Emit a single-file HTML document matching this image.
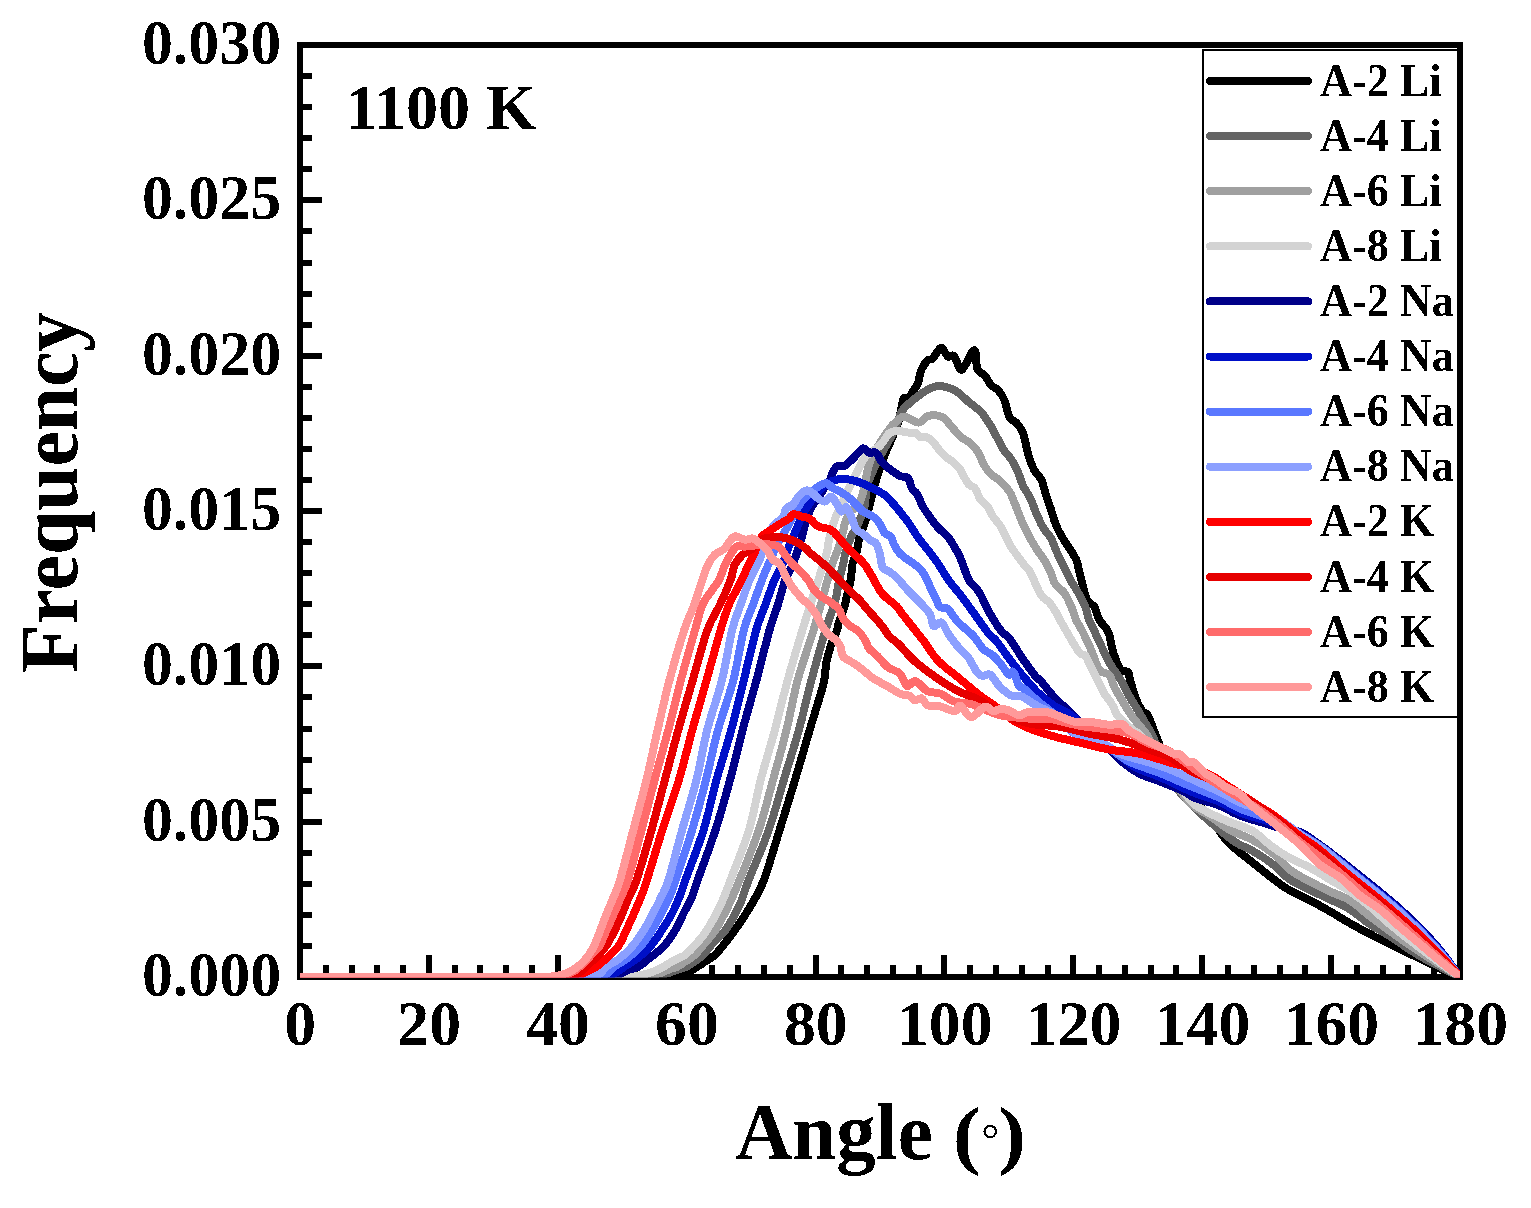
<!DOCTYPE html><html><head><meta charset="utf-8"><title>Angle distribution 1100 K</title><style>html,body{margin:0;padding:0;background:#fff;}svg{display:block;}text{font-family:"Liberation Serif", "Times New Roman", serif;font-weight:bold;fill:#000;}</style></head><body>
<svg width="1531" height="1208" viewBox="0 0 1531 1208">
<rect x="0" y="0" width="1531" height="1208" fill="#fff"/>
<defs><filter id="crisp" x="-5%" y="-5%" width="110%" height="110%"><feComponentTransfer><feFuncA type="discrete" tableValues="0 1"/></feComponentTransfer></filter><clipPath id="pa"><rect x="300" y="45" width="1160" height="932.5"/></clipPath></defs>
<rect x="300" y="45" width="1160" height="932" fill="none" stroke="#000" stroke-width="6"/>
<path d="M325.8,977 V965 M351.6,977 V965 M377.3,977 V965 M403.1,977 V965 M428.9,977 V955 M454.7,977 V965 M480.4,977 V965 M506.2,977 V965 M532.0,977 V965 M557.8,977 V955 M583.6,977 V965 M609.3,977 V965 M635.1,977 V965 M660.9,977 V965 M686.7,977 V955 M712.4,977 V965 M738.2,977 V965 M764.0,977 V965 M789.8,977 V965 M815.6,977 V955 M841.3,977 V965 M867.1,977 V965 M892.9,977 V965 M918.7,977 V965 M944.4,977 V955 M970.2,977 V965 M996.0,977 V965 M1021.8,977 V965 M1047.6,977 V965 M1073.3,977 V955 M1099.1,977 V965 M1124.9,977 V965 M1150.7,977 V965 M1176.4,977 V965 M1202.2,977 V955 M1228.0,977 V965 M1253.8,977 V965 M1279.6,977 V965 M1305.3,977 V965 M1331.1,977 V955 M1356.9,977 V965 M1382.7,977 V965 M1408.4,977 V965 M1434.2,977 V965 M300,945.9 H312 M300,914.9 H312 M300,883.8 H312 M300,852.7 H312 M300,821.7 H322 M300,790.6 H312 M300,759.5 H312 M300,728.5 H312 M300,697.4 H312 M300,666.3 H322 M300,635.3 H312 M300,604.2 H312 M300,573.1 H312 M300,542.1 H312 M300,511.0 H322 M300,479.9 H312 M300,448.9 H312 M300,417.8 H312 M300,386.7 H312 M300,355.7 H322 M300,324.6 H312 M300,293.5 H312 M300,262.5 H312 M300,231.4 H312 M300,200.3 H322 M300,169.3 H312 M300,138.2 H312 M300,107.1 H312 M300,76.1 H312" stroke="#000" stroke-width="6" fill="none" shape-rendering="crispEdges"/>
<g clip-path="url(#pa)" fill="none" stroke-width="8.0" stroke-linejoin="round" stroke-linecap="round" shape-rendering="crispEdges">
<path stroke="#000000" d="M300.0,977.0 C358.3,977.0 589.7,977.1 650.0,977.0 C662.0,976.9 658.3,976.8 662.0,976.5 C665.7,976.2 669.0,975.5 672.0,975.0 C675.0,974.5 677.7,973.8 680.0,973.5 C682.3,973.2 683.2,974.1 686.0,973.0 C688.8,971.9 693.7,969.0 697.0,967.0 C700.3,965.0 703.0,963.0 706.0,961.0 C709.0,959.0 711.8,958.0 715.0,955.0 C718.2,952.0 721.7,947.2 725.0,943.0 C728.3,938.8 730.6,936.3 735.0,930.0 C739.4,923.7 746.4,913.3 751.2,905.0 C756.0,896.7 759.2,892.5 763.9,880.0 C768.6,867.5 774.4,846.7 779.6,830.0 C784.8,813.3 790.0,796.7 795.0,780.0 C800.0,763.3 804.9,746.3 809.7,730.0 C814.5,713.7 821.3,693.0 824.0,682.0 C826.0,671.0 825.2,669.0 826.0,664.0 C826.8,659.0 828.0,655.7 829.0,652.0 C830.0,648.3 830.8,645.3 832.0,642.0 C833.2,638.7 835.3,635.3 836.5,632.0 C837.7,628.7 837.9,625.7 839.0,622.0 C840.1,618.3 842.2,613.7 843.4,610.0 C844.6,606.3 844.8,605.0 846.0,600.0 C847.2,595.0 849.6,586.0 850.7,580.0 C851.8,574.0 851.6,568.4 852.6,563.7 C853.6,559.0 855.5,556.3 856.6,552.0 C857.8,547.7 858.1,542.5 859.5,537.7 C860.9,532.9 863.1,528.5 864.7,523.2 C866.4,517.9 867.7,512.2 869.4,505.8 C871.1,499.4 872.5,492.6 874.7,485.0 C876.9,477.4 879.2,469.2 882.7,460.0 C886.2,450.8 892.7,436.7 895.4,430.0 C898.1,423.3 897.6,425.2 899.0,420.0 C900.4,414.8 902.0,402.6 903.5,399.0 C905.0,395.4 906.4,400.3 908.3,398.5 C910.2,396.7 913.4,390.6 915.0,388.0 C916.6,385.4 916.9,386.1 918.0,383.0 C919.1,379.9 919.9,373.2 921.5,369.5 C923.1,365.8 925.7,362.3 927.5,360.5 C929.3,358.7 930.5,360.5 932.5,358.6 C934.5,356.7 937.9,350.7 939.5,349.0 C941.1,347.3 940.9,347.1 942.3,348.4 C943.7,349.6 946.0,355.2 948.0,356.5 C950.0,357.8 952.0,353.9 954.2,356.1 C956.4,358.3 958.6,369.2 961.0,369.7 C963.4,370.2 966.5,362.1 968.5,359.0 C970.5,355.9 971.7,352.1 972.9,351.0 C974.1,349.9 974.7,349.5 975.5,352.5 C976.3,355.5 975.9,365.1 977.5,369.0 C979.1,372.9 982.7,373.2 985.0,376.0 C987.3,378.8 989.2,383.1 991.5,385.5 C993.8,387.9 996.3,388.0 998.5,390.5 C1000.7,393.0 1002.6,396.0 1004.5,400.5 C1006.4,405.0 1007.6,413.8 1009.6,417.5 C1011.6,421.2 1014.2,420.3 1016.5,423.0 C1018.8,425.7 1021.2,428.2 1023.2,433.5 C1025.2,438.8 1026.5,449.0 1028.3,455.0 C1030.1,461.0 1031.7,465.3 1033.9,469.5 C1036.1,473.7 1039.7,476.3 1041.5,480.0 C1043.3,483.7 1043.5,486.8 1045.0,491.6 C1046.5,496.4 1048.9,503.2 1050.8,509.0 C1052.7,514.8 1054.2,520.9 1056.5,526.3 C1058.8,531.7 1062.5,537.6 1064.7,541.4 C1067.0,545.2 1068.5,546.7 1070.0,549.0 C1071.5,551.3 1072.3,552.8 1073.5,555.0 C1074.7,557.2 1075.8,558.1 1077.0,562.0 C1078.2,565.9 1079.3,572.3 1080.9,578.5 C1082.5,584.7 1085.0,595.0 1086.7,599.3 C1088.4,603.5 1089.7,602.6 1091.0,604.0 C1092.3,605.4 1093.4,604.7 1094.8,607.4 C1096.2,610.1 1097.1,615.8 1099.4,620.0 C1101.7,624.2 1106.1,627.0 1108.4,632.4 C1110.7,637.8 1111.3,646.3 1113.1,652.1 C1114.9,657.9 1117.5,663.9 1119.0,667.0 C1120.5,670.1 1120.5,670.2 1122.0,671.0 C1123.5,671.8 1126.6,670.3 1128.0,672.0 C1129.4,673.7 1129.0,676.5 1130.4,681.1 C1131.8,685.7 1134.5,695.0 1136.2,699.6 C1138.0,704.2 1139.8,706.8 1140.9,708.9 C1142.0,711.0 1142.0,711.1 1143.0,712.0 C1144.0,712.9 1145.8,712.6 1147.0,714.0 C1148.2,715.4 1148.6,716.9 1150.1,720.5 C1151.6,724.1 1151.8,725.6 1155.9,735.5 C1160.1,745.4 1168.5,769.2 1175.0,780.0 C1181.5,790.8 1188.6,793.3 1194.8,800.0 C1201.0,806.7 1207.4,813.8 1212.2,820.0 C1217.0,826.2 1219.9,832.2 1223.7,837.0 C1227.5,841.8 1230.5,844.4 1235.3,848.7 C1240.1,853.0 1247.9,858.7 1252.7,862.6 C1257.5,866.5 1260.4,868.9 1264.3,872.0 C1268.2,875.1 1271.6,877.9 1275.9,881.0 C1280.2,884.1 1284.3,887.3 1290.0,890.5 C1295.7,893.7 1303.3,896.9 1310.0,900.4 C1316.7,903.9 1323.3,907.6 1330.0,911.4 C1336.7,915.2 1343.3,919.5 1350.0,923.3 C1356.7,927.1 1361.7,929.9 1370.0,934.2 C1378.3,938.5 1391.4,944.8 1400.0,949.0 C1408.6,953.2 1414.6,956.0 1421.7,959.5 C1428.8,963.0 1436.2,967.1 1442.6,970.0 C1449.0,972.9 1457.1,975.8 1460.0,977.0"/>
<path stroke="#646464" d="M300.0,977.0 C356.3,977.0 579.7,977.1 638.0,977.0 C650.0,976.9 646.2,976.8 650.0,976.5 C653.8,976.2 657.7,975.7 661.0,975.0 C664.3,974.3 667.2,973.4 670.0,972.5 C672.8,971.6 675.3,970.4 678.0,969.5 C680.7,968.6 683.3,968.1 686.0,966.9 C688.7,965.6 691.2,964.0 694.0,962.0 C696.8,960.0 699.8,958.2 703.0,955.0 C706.2,951.8 709.2,947.2 713.0,943.0 C716.8,938.8 721.1,936.3 725.5,930.0 C729.9,923.7 735.7,913.3 739.6,905.0 C743.5,896.7 743.8,892.5 748.7,880.0 C753.6,867.5 762.9,846.7 768.8,830.0 C774.6,813.3 778.8,796.7 783.8,780.0 C788.8,763.3 794.3,746.7 798.9,730.0 C803.5,713.3 807.0,696.7 811.5,680.0 C816.0,663.3 821.6,643.2 825.6,630.0 C829.6,616.8 833.0,608.9 835.3,600.6 C837.5,592.3 837.8,586.1 839.1,580.0 C840.4,573.9 842.2,568.4 843.3,563.7 C844.4,559.0 844.4,556.3 845.6,552.0 C846.9,547.7 848.7,542.5 850.8,537.7 C852.9,532.9 856.1,528.5 858.4,523.2 C860.7,517.9 863.2,512.2 864.7,505.8 C866.2,499.4 865.0,492.7 867.3,485.0 C869.6,477.3 873.7,468.8 878.3,459.6 C882.9,450.4 890.8,438.0 894.7,430.0 C898.6,422.0 898.7,416.3 901.5,411.5 C904.3,406.7 907.7,404.7 911.7,401.3 C915.7,397.9 920.8,393.7 925.3,391.1 C929.8,388.6 933.8,386.0 938.9,386.0 C944.0,386.0 950.9,388.4 955.9,391.1 C960.9,393.8 964.9,398.9 969.0,402.3 C973.1,405.7 977.1,407.9 980.6,411.6 C984.1,415.3 987.1,420.1 989.8,424.3 C992.5,428.6 994.5,432.9 996.8,437.1 C999.1,441.4 1001.2,445.9 1003.7,449.8 C1006.2,453.7 1009.4,456.2 1011.9,460.3 C1014.4,464.4 1016.9,469.9 1018.8,474.2 C1020.6,478.4 1021.1,481.9 1023.0,485.8 C1024.8,489.7 1027.6,492.6 1029.9,497.4 C1032.2,502.2 1034.6,509.6 1036.9,514.8 C1039.2,520.0 1041.5,524.9 1043.8,528.7 C1046.1,532.6 1048.5,533.7 1050.8,537.9 C1053.1,542.1 1055.4,549.1 1057.7,554.1 C1060.0,559.1 1062.4,563.4 1064.7,568.0 C1067.0,572.6 1069.3,577.6 1071.6,581.9 C1073.9,586.1 1076.3,589.2 1078.6,593.5 C1080.9,597.8 1083.8,603.0 1085.5,607.4 C1087.2,611.8 1087.7,616.4 1089.0,620.0 C1090.3,623.6 1091.1,624.2 1093.4,629.0 C1095.7,633.8 1099.7,642.7 1102.6,648.7 C1105.5,654.7 1107.8,659.9 1110.7,664.9 C1113.6,669.9 1116.9,673.6 1120.0,678.8 C1123.1,684.0 1126.2,690.7 1129.3,696.1 C1132.4,701.5 1135.4,706.0 1138.5,711.2 C1141.6,716.4 1145.5,723.3 1147.8,727.4 C1150.1,731.5 1148.0,726.4 1152.5,736.0 C1157.0,745.6 1167.9,773.0 1175.0,785.0 C1182.1,797.0 1188.3,801.2 1195.0,808.0 C1201.7,814.8 1208.3,820.3 1215.0,826.0 C1221.7,831.7 1228.7,837.8 1235.0,842.0 C1241.3,846.2 1246.5,847.3 1252.7,851.0 C1259.0,854.7 1266.3,859.2 1272.5,864.0 C1278.7,868.8 1283.8,875.3 1290.0,879.6 C1296.2,883.9 1303.3,886.7 1310.0,890.0 C1316.7,893.3 1323.3,896.2 1330.0,899.4 C1336.7,902.6 1343.3,905.2 1350.0,909.4 C1356.7,913.5 1363.3,919.8 1370.0,924.3 C1376.7,928.8 1381.7,930.9 1390.0,936.2 C1398.3,941.5 1408.3,949.2 1420.0,956.0 C1431.7,962.8 1453.3,973.5 1460.0,977.0"/>
<path stroke="#a0a0a0" d="M300.0,977.0 C355.0,977.0 573.0,977.1 630.0,977.0 C642.0,976.9 638.3,976.8 642.0,976.5 C645.7,976.2 648.7,975.7 652.0,975.0 C655.3,974.3 659.0,973.5 662.0,972.5 C665.0,971.5 667.5,969.9 670.0,969.0 C672.5,968.1 674.3,968.2 677.0,966.9 C679.7,965.6 683.0,963.0 686.0,961.0 C689.0,959.0 691.5,958.0 694.7,955.0 C697.9,952.0 701.5,947.2 705.0,943.0 C708.5,938.8 711.5,936.3 715.5,930.0 C719.5,923.7 724.8,913.3 728.8,905.0 C732.8,896.7 734.6,892.5 739.6,880.0 C744.6,867.5 753.3,846.7 758.9,830.0 C764.5,813.3 768.4,796.7 773.0,780.0 C777.6,763.3 782.4,746.7 786.5,730.0 C790.6,713.3 793.2,696.7 797.7,680.0 C802.2,663.3 808.6,646.7 813.6,630.0 C818.6,613.3 824.5,591.0 827.6,580.0 C830.7,569.0 830.8,568.4 832.3,563.7 C833.8,559.0 835.3,556.3 836.9,552.0 C838.5,547.7 840.2,542.5 841.6,537.7 C843.0,532.9 843.6,527.5 845.0,523.2 C846.4,518.9 847.9,514.9 850.0,512.0 C852.1,509.1 855.6,509.0 857.8,505.8 C860.0,502.6 860.8,500.7 863.0,493.0 C865.2,485.3 866.5,470.1 870.8,459.6 C875.1,449.1 884.2,436.6 888.7,430.0 C893.2,423.4 895.4,422.2 898.1,420.0 C900.8,417.8 901.5,416.2 904.9,416.6 C908.3,417.0 914.5,422.7 918.5,422.6 C922.5,422.5 924.7,416.7 928.7,415.8 C932.7,414.9 938.5,415.2 942.3,417.0 C946.1,418.8 948.5,423.3 951.6,426.7 C954.7,430.1 957.8,434.4 960.9,437.1 C964.0,439.8 967.2,440.4 970.1,442.9 C973.0,445.4 975.9,448.5 978.2,452.2 C980.5,455.9 981.9,461.2 984.0,464.9 C986.1,468.6 988.3,471.5 991.0,474.2 C993.7,476.9 997.2,478.2 1000.3,481.1 C1003.4,484.0 1007.2,488.1 1009.5,491.6 C1011.8,495.1 1012.0,496.6 1014.2,502.0 C1016.5,507.4 1020.4,518.0 1023.0,524.0 C1025.6,530.0 1027.6,533.6 1029.9,537.9 C1032.2,542.1 1034.4,545.6 1036.9,549.5 C1039.4,553.4 1042.7,557.2 1045.0,561.1 C1047.3,565.0 1049.1,568.8 1050.8,572.7 C1052.5,576.6 1053.1,580.8 1055.4,584.3 C1057.7,587.8 1062.0,589.6 1064.7,593.5 C1067.4,597.4 1069.7,603.0 1071.6,607.4 C1073.5,611.8 1074.3,615.8 1076.2,620.0 C1078.1,624.2 1080.5,627.4 1083.0,632.4 C1085.5,637.4 1088.4,643.6 1091.1,649.8 C1093.8,656.0 1096.1,665.2 1099.2,669.5 C1102.3,673.8 1107.1,672.4 1109.6,675.3 C1112.1,678.2 1112.1,682.6 1114.2,686.9 C1116.3,691.1 1119.4,696.0 1122.3,700.8 C1125.2,705.6 1128.5,711.4 1131.6,715.8 C1134.7,720.2 1138.2,723.9 1140.9,727.4 C1143.6,730.9 1143.0,728.8 1147.8,736.7 C1152.6,744.6 1163.0,764.0 1170.0,775.0 C1177.0,786.0 1183.3,796.2 1190.0,803.0 C1196.7,809.8 1203.3,811.5 1210.0,816.0 C1216.7,820.5 1222.9,826.0 1230.0,830.0 C1237.1,834.0 1245.6,836.2 1252.7,840.0 C1259.8,843.8 1266.3,848.0 1272.5,853.0 C1278.7,858.0 1283.8,864.9 1290.0,869.7 C1296.2,874.5 1303.3,878.0 1310.0,881.6 C1316.7,885.2 1323.3,888.4 1330.0,891.5 C1336.7,894.6 1343.3,896.3 1350.0,900.4 C1356.7,904.5 1363.3,911.2 1370.0,916.3 C1376.7,921.4 1381.7,925.2 1390.0,931.2 C1398.3,937.2 1408.3,944.4 1420.0,952.0 C1431.7,959.6 1453.3,972.8 1460.0,977.0"/>
<path stroke="#d3d3d3" d="M300.0,977.0 C353.7,977.0 566.3,977.1 622.0,977.0 C634.0,976.9 630.3,976.7 634.0,976.3 C637.7,975.9 641.0,975.2 644.0,974.5 C647.0,973.8 649.7,972.8 652.0,972.0 C654.3,971.2 656.0,970.4 658.0,969.5 C660.0,968.6 661.7,967.8 664.0,966.5 C666.3,965.2 669.5,962.9 672.0,961.5 C674.5,960.1 676.8,959.1 679.0,958.0 C681.2,956.9 682.2,957.3 685.0,955.0 C687.8,952.7 692.3,948.2 696.0,944.0 C699.7,939.8 702.9,936.5 707.0,930.0 C711.1,923.5 716.7,913.3 720.6,905.0 C724.5,896.7 725.8,892.5 730.5,880.0 C735.2,867.5 744.0,846.7 749.0,830.0 C754.0,813.3 756.4,796.7 760.7,780.0 C765.0,763.3 770.4,746.7 774.9,730.0 C779.4,713.3 783.1,696.7 787.7,680.0 C792.3,663.3 797.3,646.7 802.4,630.0 C807.5,613.3 814.8,591.0 818.3,580.0 C821.8,569.0 822.1,568.4 823.6,563.7 C825.1,559.0 826.0,556.3 827.0,552.0 C828.0,547.7 828.3,542.5 829.4,537.7 C830.5,532.9 831.6,528.3 833.4,523.2 C835.2,518.1 837.1,513.4 840.0,507.0 C842.9,500.6 846.8,492.9 850.7,485.0 C854.6,477.1 860.2,464.9 863.4,459.6 C866.6,454.3 867.5,455.1 870.0,453.0 C872.5,450.9 876.3,448.8 878.5,447.0 C880.7,445.2 881.3,444.2 883.0,442.0 C884.7,439.8 887.0,435.7 888.5,434.0 C890.0,432.3 890.1,432.3 892.0,431.8 C893.9,431.3 897.1,431.1 899.7,431.2 C902.3,431.3 905.0,432.2 907.7,432.5 C910.4,432.8 914.0,432.3 916.0,433.0 C918.0,433.7 917.9,436.1 919.6,436.8 C921.3,437.5 924.0,436.3 926.2,437.1 C928.4,437.9 930.6,439.5 932.8,441.7 C935.0,443.9 937.3,447.8 939.5,450.3 C941.7,452.9 943.8,455.1 946.0,457.0 C948.2,458.9 950.5,460.0 952.7,461.9 C954.9,463.8 957.5,466.0 959.3,468.2 C961.0,470.4 961.6,472.6 963.2,475.3 C964.8,478.0 967.1,482.5 969.0,484.6 C970.9,486.7 972.9,485.6 974.8,488.1 C976.7,490.6 978.5,496.6 980.6,499.7 C982.7,502.8 985.4,503.7 987.5,506.6 C989.6,509.5 991.0,513.5 993.3,517.0 C995.6,520.5 998.7,523.0 1001.4,527.5 C1004.1,532.0 1005.9,538.2 1009.5,544.2 C1013.1,550.2 1019.6,558.9 1023.0,563.4 C1026.4,567.9 1027.8,568.0 1029.9,571.5 C1032.0,575.0 1033.8,580.2 1035.7,584.3 C1037.6,588.3 1039.2,592.7 1041.5,595.8 C1043.8,598.9 1047.1,599.9 1049.6,602.8 C1052.1,605.7 1054.8,610.3 1056.5,613.2 C1058.2,616.1 1056.5,613.7 1060.0,620.0 C1063.6,626.3 1074.1,645.1 1078.3,651.0 C1082.5,656.9 1083.4,653.3 1085.3,655.6 C1087.2,657.9 1088.0,661.0 1089.9,664.9 C1091.8,668.8 1094.6,674.2 1096.9,678.8 C1099.2,683.4 1101.3,688.5 1103.8,692.7 C1106.3,697.0 1109.6,700.4 1111.9,704.3 C1114.2,708.1 1115.6,712.7 1117.7,715.8 C1119.8,718.9 1122.0,720.3 1124.7,722.8 C1127.4,725.3 1131.2,728.7 1133.9,730.9 C1136.6,733.1 1134.9,729.5 1140.9,736.0 C1146.9,742.5 1161.8,759.3 1170.0,770.0 C1178.2,780.7 1183.9,793.1 1190.0,800.0 C1196.1,806.9 1199.8,807.8 1206.4,811.5 C1213.0,815.2 1221.8,818.8 1229.5,822.0 C1237.2,825.2 1246.0,827.2 1252.7,831.0 C1259.5,834.8 1264.2,840.7 1270.0,845.0 C1275.8,849.3 1280.8,852.9 1287.5,856.7 C1294.2,860.5 1302.9,863.9 1310.0,867.7 C1317.1,871.5 1323.3,875.6 1330.0,879.6 C1336.7,883.6 1343.3,887.0 1350.0,891.5 C1356.7,896.0 1363.3,900.9 1370.0,906.4 C1376.7,911.9 1381.7,917.4 1390.0,924.3 C1398.3,931.2 1408.3,939.2 1420.0,948.0 C1431.7,956.8 1453.3,972.2 1460.0,977.0"/>
<path stroke="#000088" d="M300.0,977.0 C350.7,977.0 551.7,977.2 604.0,977.0 C614.0,976.8 611.2,976.6 614.0,976.0 C616.8,975.4 618.7,974.5 621.0,973.5 C623.3,972.5 625.2,971.1 628.0,970.0 C630.8,968.9 634.5,968.8 638.0,966.9 C641.5,965.0 644.7,962.0 649.0,958.6 C653.3,955.2 659.5,951.0 663.9,946.2 C668.3,941.4 672.2,935.2 675.5,929.7 C678.8,924.2 681.0,918.6 683.7,913.1 C686.5,907.6 689.7,902.1 692.0,896.6 C694.3,891.1 693.8,891.1 697.7,880.0 C701.6,868.9 710.1,846.7 715.5,830.0 C720.9,813.3 725.5,796.7 730.0,780.0 C734.5,763.3 738.2,746.7 742.6,730.0 C747.0,713.3 752.0,696.7 756.5,680.0 C761.0,663.3 766.0,642.5 769.5,630.0 C773.0,617.5 775.2,613.3 777.8,605.0 C780.4,596.7 783.2,585.8 785.2,580.0 C787.2,574.2 788.2,574.0 790.0,570.0 C791.8,566.0 794.1,560.9 795.9,555.9 C797.7,550.9 799.5,545.1 801.0,540.0 C802.5,534.9 803.5,530.0 805.0,525.0 C806.5,520.0 808.3,513.8 810.0,510.0 C811.7,506.2 813.3,504.5 815.0,502.0 C816.7,499.5 818.3,497.5 820.0,495.0 C821.7,492.5 823.4,489.3 825.0,487.0 C826.6,484.7 828.2,483.3 829.5,481.0 C830.8,478.7 831.2,475.4 832.5,473.0 C833.8,470.6 835.0,467.5 837.0,466.3 C839.0,465.1 841.6,467.4 844.4,466.0 C847.1,464.6 850.4,460.9 853.5,458.0 C856.6,455.1 860.3,449.3 863.0,448.4 C865.7,447.5 867.3,452.0 869.5,452.7 C871.7,453.4 873.9,451.1 876.0,452.7 C878.1,454.2 879.8,459.3 882.0,462.0 C884.2,464.7 886.5,466.7 889.5,469.0 C892.5,471.3 896.9,474.5 900.0,476.0 C903.1,477.5 906.0,475.9 908.0,478.0 C910.0,480.1 910.5,485.8 912.0,488.5 C913.5,491.2 915.0,490.7 917.0,494.0 C919.0,497.3 920.6,503.0 924.0,508.5 C927.4,514.0 933.5,522.2 937.5,527.0 C941.5,531.8 944.5,532.3 948.3,537.4 C952.1,542.5 956.8,550.6 960.2,557.7 C963.6,564.8 965.6,574.1 968.7,579.8 C971.8,585.5 975.5,586.3 978.9,591.7 C982.3,597.1 985.4,605.5 989.1,612.0 C992.8,618.5 997.6,626.3 1001.0,630.8 C1004.4,635.2 1005.8,634.0 1009.5,638.7 C1013.2,643.4 1018.5,652.6 1023.0,659.1 C1027.5,665.6 1033.8,674.2 1036.6,677.7 C1039.4,681.2 1037.0,676.6 1040.0,680.0 C1043.0,683.4 1049.9,692.6 1054.9,697.9 C1059.9,703.2 1064.8,706.8 1069.8,711.8 C1074.8,716.8 1080.0,722.8 1085.0,728.0 C1090.0,733.2 1095.8,739.3 1100.0,743.0 C1104.2,746.7 1105.9,746.5 1110.0,750.0 C1114.1,753.5 1119.5,759.8 1124.4,763.7 C1129.3,767.6 1133.4,770.6 1139.3,773.6 C1145.2,776.6 1152.7,778.6 1160.0,781.5 C1167.3,784.4 1177.2,788.2 1183.0,791.0 C1188.8,793.8 1189.2,795.7 1195.0,798.0 C1200.8,800.3 1210.3,802.0 1218.0,805.0 C1225.7,808.0 1233.3,813.0 1241.0,816.0 C1248.7,819.0 1257.5,821.0 1264.0,823.0 C1270.5,825.0 1274.0,826.5 1280.0,828.0 C1286.0,829.5 1293.3,829.2 1300.0,832.0 C1306.7,834.8 1313.3,840.3 1320.0,845.0 C1326.7,849.7 1333.3,854.8 1340.0,860.0 C1346.7,865.2 1353.3,870.7 1360.0,876.0 C1366.7,881.3 1373.3,886.5 1380.0,892.0 C1386.7,897.5 1393.3,903.0 1400.0,909.0 C1406.7,915.0 1413.3,921.2 1420.0,928.0 C1426.7,934.8 1433.3,941.8 1440.0,950.0 C1446.7,958.2 1456.7,972.5 1460.0,977.0"/>
<path stroke="#0010c8" d="M300.0,977.0 C349.3,977.0 545.0,977.2 596.0,977.0 C606.0,976.8 603.2,976.5 606.0,976.0 C608.8,975.5 610.7,975.0 613.0,974.0 C615.3,973.0 618.2,971.2 620.0,970.0 C621.8,968.8 621.2,968.8 624.0,966.9 C626.8,965.0 632.6,962.0 637.0,958.6 C641.4,955.2 646.4,951.0 650.6,946.2 C654.8,941.4 658.6,935.2 662.2,929.7 C665.8,924.2 669.3,918.6 672.2,913.1 C675.1,907.6 677.4,902.1 679.6,896.6 C681.8,891.1 681.4,891.1 685.4,880.0 C689.4,868.9 698.4,846.7 703.6,830.0 C708.8,813.3 711.9,796.7 716.5,780.0 C721.1,763.3 726.7,746.7 731.2,730.0 C735.8,713.3 739.6,696.7 743.8,680.0 C748.0,663.3 752.6,642.5 756.2,630.0 C759.8,617.5 762.3,613.3 765.3,605.0 C768.3,596.7 771.6,586.6 774.4,580.0 C777.2,573.4 779.6,570.8 782.0,565.2 C784.4,559.6 786.6,552.4 788.9,546.6 C791.2,540.8 793.6,535.8 795.9,530.4 C798.2,525.0 800.7,518.5 802.8,514.2 C804.9,510.0 806.2,508.4 808.6,504.9 C811.0,501.4 814.0,496.5 817.0,493.0 C820.0,489.5 823.4,486.2 826.8,484.0 C830.2,481.8 833.6,480.2 837.3,479.5 C841.0,478.8 845.0,478.8 849.2,479.5 C853.4,480.2 858.4,481.9 862.6,483.5 C866.8,485.1 870.9,487.5 874.5,489.4 C878.1,491.3 881.5,492.6 884.5,494.9 C887.5,497.2 890.0,500.2 892.8,503.2 C895.6,506.2 898.4,509.7 901.1,513.1 C903.9,516.6 906.5,519.9 909.3,523.9 C912.1,527.9 913.3,530.9 917.8,537.1 C922.3,543.3 931.3,554.0 936.4,561.1 C941.5,568.2 944.0,573.8 948.3,579.8 C952.5,585.8 957.4,590.8 961.9,596.8 C966.4,602.8 971.0,609.3 975.5,615.5 C980.0,621.7 985.7,630.1 989.1,634.2 C992.5,638.4 992.5,636.2 995.9,640.4 C999.3,644.5 1005.0,653.2 1009.5,659.1 C1014.0,665.0 1018.2,670.4 1023.0,676.0 C1027.8,681.6 1032.9,687.9 1038.3,693.0 C1043.7,698.1 1049.6,702.8 1055.3,706.6 C1061.0,710.4 1066.5,711.3 1072.3,716.0 C1078.1,720.7 1083.7,729.7 1090.0,735.0 C1096.3,740.3 1102.5,742.7 1110.0,748.0 C1117.5,753.3 1126.7,762.2 1135.0,767.0 C1143.3,771.8 1152.0,773.5 1160.0,777.0 C1168.0,780.5 1176.3,785.0 1183.0,788.0 C1189.7,791.0 1193.8,792.7 1200.0,795.0 C1206.2,797.3 1213.2,799.0 1220.0,802.0 C1226.8,805.0 1233.7,810.0 1241.0,813.0 C1248.3,816.0 1257.5,817.8 1264.0,820.0 C1270.5,822.2 1274.0,823.8 1280.0,826.0 C1286.0,828.2 1293.3,829.6 1300.0,833.0 C1306.7,836.4 1313.3,841.8 1320.0,846.5 C1326.7,851.2 1333.3,856.3 1340.0,861.5 C1346.7,866.7 1353.3,872.2 1360.0,877.5 C1366.7,882.8 1373.3,888.0 1380.0,893.5 C1386.7,899.0 1393.3,904.5 1400.0,910.5 C1406.7,916.5 1413.3,922.8 1420.0,929.5 C1426.7,936.2 1433.3,943.1 1440.0,951.0 C1446.7,958.9 1456.7,972.7 1460.0,977.0"/>
<path stroke="#5a78ff" d="M300.0,977.0 C348.3,977.0 540.0,977.2 590.0,977.0 C600.0,976.8 597.2,976.6 600.0,976.0 C602.8,975.4 604.7,975.0 607.0,973.5 C609.3,972.0 611.8,968.8 614.0,967.0 C616.2,965.2 617.8,964.4 620.0,963.0 C622.2,961.6 623.5,961.4 627.0,958.6 C630.5,955.8 636.5,951.0 640.7,946.2 C644.9,941.4 648.8,935.2 652.3,929.7 C655.8,924.2 658.5,918.6 661.4,913.1 C664.3,907.6 667.4,902.1 669.7,896.6 C672.1,891.1 671.8,891.1 675.5,880.0 C679.2,868.9 687.0,846.7 692.1,830.0 C697.2,813.3 701.7,796.7 706.0,780.0 C710.3,763.3 713.4,746.7 718.0,730.0 C722.6,713.3 729.1,696.7 733.4,680.0 C737.7,663.3 740.5,642.5 743.8,630.0 C747.0,617.5 749.9,613.3 752.9,605.0 C755.9,596.7 759.5,586.6 762.0,580.0 C764.5,573.4 765.7,570.8 768.1,565.2 C770.5,559.6 773.5,552.0 776.2,546.6 C778.9,541.2 781.4,537.9 784.3,532.7 C787.2,527.5 790.7,520.5 793.6,515.3 C796.5,510.1 799.3,504.8 801.7,501.4 C804.1,498.0 805.2,497.5 808.0,495.0 C810.8,492.5 815.2,488.6 818.3,486.6 C821.4,484.7 824.1,483.0 826.6,483.3 C829.1,483.6 830.7,486.8 833.2,488.3 C835.7,489.8 838.8,490.8 841.5,492.4 C844.2,494.0 847.2,496.1 849.7,498.2 C852.2,500.3 854.2,502.6 856.4,504.8 C858.6,507.0 860.8,509.8 863.0,511.5 C865.2,513.2 867.4,513.6 869.6,514.8 C871.8,516.0 874.3,517.0 876.2,518.9 C878.1,520.8 879.8,524.0 881.2,526.4 C882.6,528.8 882.9,531.2 884.5,533.0 C886.1,534.8 889.5,535.0 891.1,537.1 C892.8,539.2 893.0,542.8 894.4,545.4 C895.8,548.0 897.6,550.7 899.4,552.8 C901.2,554.9 903.4,556.4 905.2,557.8 C907.0,559.2 907.9,559.6 910.0,561.1 C912.1,562.6 915.4,564.7 917.8,567.0 C920.2,569.3 922.5,571.4 924.5,574.7 C926.5,578.0 928.1,582.7 930.0,586.6 C931.9,590.5 934.2,594.8 935.8,598.2 C937.4,601.6 937.9,605.3 939.8,607.0 C941.7,608.7 944.8,606.5 947.4,608.5 C950.0,610.5 952.6,615.8 955.5,619.1 C958.4,622.4 961.7,625.4 964.8,628.3 C967.9,631.2 970.9,633.0 974.0,636.5 C977.1,640.0 980.2,646.1 983.3,649.2 C986.4,652.3 989.4,652.3 992.5,655.0 C995.6,657.7 999.1,662.1 1001.8,665.4 C1004.5,668.7 1006.9,673.6 1008.8,674.7 C1010.7,675.8 1011.7,670.1 1013.4,672.0 C1015.1,673.9 1017.6,683.6 1019.2,686.3 C1020.8,688.9 1019.8,685.4 1023.0,687.9 C1026.2,690.4 1032.9,697.0 1038.3,701.5 C1043.7,706.0 1048.3,709.0 1055.3,715.1 C1062.2,721.2 1071.7,732.9 1080.0,738.0 C1088.3,743.1 1096.7,742.0 1105.0,746.0 C1113.3,750.0 1120.8,757.5 1130.0,762.0 C1139.2,766.5 1151.2,769.5 1160.0,773.0 C1168.8,776.5 1176.3,780.2 1183.0,783.0 C1189.7,785.8 1193.8,787.5 1200.0,790.0 C1206.2,792.5 1213.2,794.8 1220.0,798.0 C1226.8,801.2 1233.7,805.8 1241.0,809.0 C1248.3,812.2 1257.5,814.7 1264.0,817.0 C1270.5,819.3 1274.0,820.2 1280.0,823.0 C1286.0,825.8 1293.3,830.2 1300.0,834.0 C1306.7,837.8 1313.3,841.3 1320.0,846.0 C1326.7,850.7 1333.3,856.6 1340.0,862.0 C1346.7,867.4 1353.3,873.1 1360.0,878.5 C1366.7,883.9 1373.3,889.0 1380.0,894.5 C1386.7,900.0 1393.3,905.5 1400.0,911.5 C1406.7,917.5 1413.3,923.8 1420.0,930.5 C1426.7,937.2 1433.3,944.2 1440.0,952.0 C1446.7,959.8 1456.7,972.8 1460.0,977.0"/>
<path stroke="#8ca0ff" d="M300.0,977.0 C347.0,977.0 533.3,977.2 582.0,977.0 C592.0,976.8 589.0,976.6 592.0,976.0 C595.0,975.4 597.7,975.0 600.0,973.5 C602.3,972.0 604.0,968.8 606.0,967.0 C608.0,965.2 609.8,964.4 612.0,963.0 C614.2,961.6 616.1,961.4 619.5,958.6 C622.9,955.8 628.3,951.0 632.4,946.2 C636.5,941.4 640.5,935.2 644.0,929.7 C647.5,924.2 650.2,918.6 653.1,913.1 C656.0,907.6 658.8,902.1 661.4,896.6 C664.0,891.1 665.0,891.1 668.5,880.0 C672.0,868.9 677.4,846.7 682.1,830.0 C686.8,813.3 692.3,796.7 696.5,780.0 C700.7,763.3 703.0,746.7 707.2,730.0 C711.5,713.3 717.8,696.7 722.0,680.0 C726.2,663.3 729.1,642.5 732.2,630.0 C735.3,617.5 737.6,613.3 740.5,605.0 C743.4,596.7 746.6,587.2 749.6,580.0 C752.6,572.8 756.1,568.0 758.8,561.7 C761.5,555.4 763.8,547.6 766.0,542.0 C768.2,536.4 770.3,531.2 772.0,528.0 C773.7,524.8 774.2,524.8 776.0,523.0 C777.8,521.2 781.4,519.7 783.0,517.5 C784.6,515.3 784.5,511.8 785.5,510.0 C786.5,508.2 787.9,507.2 789.0,506.5 C790.1,505.8 790.4,507.7 792.0,506.0 C793.6,504.3 796.5,498.9 798.5,496.5 C800.5,494.1 802.5,492.5 804.0,491.5 C805.5,490.5 806.2,490.2 807.5,490.4 C808.8,490.6 810.2,491.3 812.0,492.7 C813.8,494.1 816.1,497.0 818.3,498.5 C820.4,500.0 822.7,501.8 824.9,501.5 C827.1,501.2 829.4,496.1 831.5,496.6 C833.6,497.2 835.6,502.3 837.3,504.8 C839.0,507.3 840.0,511.1 841.5,511.5 C843.0,511.9 844.8,506.3 846.4,507.3 C848.0,508.3 849.7,513.6 851.4,517.3 C853.1,521.0 854.5,527.0 856.4,529.7 C858.3,532.5 860.8,532.1 863.0,533.8 C865.2,535.4 867.4,538.0 869.6,539.6 C871.8,541.2 874.6,541.5 876.2,543.7 C877.9,545.9 878.4,548.8 879.5,552.8 C880.6,556.8 881.3,564.7 882.8,567.7 C884.3,570.8 886.2,569.4 888.6,571.1 C891.0,572.8 893.7,574.6 896.9,577.7 C900.1,580.9 903.9,586.0 907.6,590.0 C911.4,594.0 915.7,597.9 919.4,601.9 C923.1,605.9 927.6,610.0 930.0,614.0 C932.4,618.0 931.6,624.6 933.5,626.0 C935.4,627.4 939.1,621.1 941.6,622.5 C944.1,623.9 945.6,629.9 948.5,634.1 C951.4,638.4 955.7,644.1 959.0,648.0 C962.3,651.9 965.3,653.4 968.2,657.3 C971.1,661.2 974.0,668.1 976.3,671.2 C978.6,674.3 979.8,675.2 982.1,675.8 C984.4,676.4 987.3,673.0 990.2,674.7 C993.1,676.5 996.0,682.8 999.5,686.3 C1003.0,689.8 1007.5,693.8 1011.1,695.5 C1014.7,697.2 1016.8,694.5 1021.3,696.4 C1025.8,698.2 1032.6,703.5 1038.3,706.6 C1044.0,709.7 1048.3,710.0 1055.3,715.1 C1062.2,720.2 1072.5,732.7 1080.0,737.0 C1087.5,741.3 1093.4,738.2 1100.0,741.0 C1106.6,743.8 1111.3,750.0 1119.5,753.6 C1127.7,757.2 1140.9,759.9 1149.3,762.5 C1157.7,765.1 1164.4,767.4 1170.0,769.5 C1175.6,771.6 1178.0,772.8 1183.0,775.0 C1188.0,777.2 1193.8,780.2 1200.0,783.0 C1206.2,785.8 1213.2,788.7 1220.0,792.0 C1226.8,795.3 1235.0,800.3 1241.0,803.0 C1247.0,805.7 1249.5,805.2 1256.0,808.0 C1262.5,810.8 1272.7,815.7 1280.0,820.0 C1287.3,824.3 1293.3,829.5 1300.0,834.0 C1306.7,838.5 1313.3,842.2 1320.0,847.0 C1326.7,851.8 1333.3,857.6 1340.0,863.0 C1346.7,868.4 1353.3,874.1 1360.0,879.5 C1366.7,884.9 1373.3,890.0 1380.0,895.5 C1386.7,901.0 1393.3,906.5 1400.0,912.5 C1406.7,918.5 1413.3,924.8 1420.0,931.5 C1426.7,938.2 1433.3,945.4 1440.0,953.0 C1446.7,960.6 1456.7,973.0 1460.0,977.0"/>
<path stroke="#ff0000" d="M300.0,977.0 C344.3,977.0 520.0,977.2 566.0,977.0 C576.0,976.8 573.0,976.7 576.0,976.0 C579.0,975.3 581.7,974.0 584.0,973.0 C586.3,972.0 587.8,971.2 590.0,970.0 C592.2,968.8 594.8,967.9 597.5,966.0 C600.2,964.1 602.5,961.9 606.0,958.6 C609.5,955.3 615.0,951.0 618.4,946.2 C621.8,941.4 624.0,935.2 626.6,929.7 C629.2,924.2 631.7,918.6 634.1,913.1 C636.5,907.6 639.0,902.1 641.1,896.6 C643.2,891.1 643.5,891.1 647.0,880.0 C650.5,868.9 657.0,846.7 662.3,830.0 C667.6,813.3 673.9,796.7 678.9,780.0 C683.9,763.3 687.7,746.7 692.3,730.0 C696.9,713.3 701.9,696.7 706.6,680.0 C711.3,663.3 716.9,642.5 720.6,630.0 C724.3,617.5 725.4,613.3 728.9,605.0 C732.4,596.7 738.7,586.2 741.7,580.0 C744.8,573.8 745.1,571.9 747.2,567.5 C749.3,563.1 751.9,558.6 754.2,553.6 C756.5,548.6 758.4,541.2 761.1,537.3 C763.8,533.4 767.1,532.7 770.4,530.4 C773.7,528.1 777.7,525.3 780.8,523.4 C783.9,521.5 786.8,520.3 788.9,518.8 C791.0,517.3 791.5,514.6 793.6,514.2 C795.7,513.8 799.0,515.7 801.7,516.5 C804.4,517.3 807.2,517.2 810.0,518.9 C812.8,520.5 814.8,524.6 818.3,526.4 C821.8,528.2 827.2,527.8 830.7,529.7 C834.2,531.6 836.2,534.9 839.0,537.9 C841.8,540.9 844.4,544.8 847.3,547.9 C850.2,551.0 853.5,553.5 856.4,556.2 C859.3,559.0 862.1,561.2 864.6,564.4 C867.1,567.6 868.7,570.8 871.3,575.2 C873.9,579.6 877.7,587.1 880.1,590.8 C882.5,594.5 883.1,594.8 885.9,597.4 C888.7,600.0 894.3,603.9 896.8,606.4 C899.3,608.9 897.9,608.3 900.8,612.1 C903.7,615.9 910.3,624.1 914.3,629.1 C918.2,634.1 920.5,636.8 924.5,642.1 C928.5,647.4 932.4,654.9 938.1,660.8 C943.8,666.7 951.7,672.1 958.5,677.7 C965.3,683.4 972.7,689.9 978.9,694.7 C985.1,699.5 990.2,702.4 995.9,706.6 C1001.6,710.9 1007.2,716.5 1012.9,720.2 C1018.6,723.9 1023.0,726.0 1030.0,728.7 C1037.0,731.5 1046.6,734.4 1054.9,736.7 C1063.2,739.0 1070.6,740.5 1079.7,742.6 C1088.8,744.8 1099.6,747.8 1109.5,749.6 C1119.4,751.4 1129.2,751.5 1139.3,753.6 C1149.4,755.8 1158.9,759.3 1170.0,762.5 C1181.1,765.7 1196.1,768.9 1206.0,773.0 C1215.9,777.1 1220.8,781.5 1229.5,787.0 C1238.2,792.5 1250.8,800.7 1258.5,805.7 C1266.2,810.7 1269.1,812.0 1276.0,817.0 C1282.9,822.0 1292.7,830.5 1300.0,836.0 C1307.3,841.5 1313.3,844.7 1320.0,850.0 C1326.7,855.3 1333.3,862.0 1340.0,867.7 C1346.7,873.4 1353.3,878.6 1360.0,884.0 C1366.7,889.4 1373.3,894.5 1380.0,900.0 C1386.7,905.5 1393.3,911.2 1400.0,917.0 C1406.7,922.8 1413.3,928.7 1420.0,935.0 C1426.7,941.3 1433.3,948.0 1440.0,955.0 C1446.7,962.0 1456.7,973.3 1460.0,977.0"/>
<path stroke="#e60000" d="M300.0,977.0 C343.0,977.0 513.0,977.2 558.0,977.0 C570.0,976.8 566.7,976.6 570.0,976.0 C573.3,975.4 575.5,974.8 578.0,973.5 C580.5,972.2 583.0,969.8 585.0,968.0 C587.0,966.2 588.3,964.6 590.0,963.0 C591.7,961.4 592.3,961.4 595.0,958.6 C597.7,955.8 602.7,951.0 606.0,946.2 C609.3,941.4 612.2,935.2 615.0,929.7 C617.8,924.2 620.1,918.6 622.5,913.1 C624.9,907.6 626.8,902.1 629.1,896.6 C631.5,891.1 632.9,891.1 636.6,880.0 C640.3,868.9 646.8,846.7 651.5,830.0 C656.2,813.3 660.4,796.7 664.9,780.0 C669.4,763.3 673.6,746.7 678.3,730.0 C682.9,713.3 687.9,696.7 692.8,680.0 C697.6,663.3 702.9,642.5 707.4,630.0 C711.9,617.5 715.9,613.3 719.8,605.0 C723.7,596.7 728.1,586.6 730.6,580.0 C733.1,573.4 732.5,569.4 734.5,565.2 C736.5,561.0 739.7,557.4 742.6,554.7 C745.5,552.0 748.8,551.4 751.9,548.9 C755.0,546.4 757.6,541.6 761.1,539.7 C764.6,537.8 769.2,537.7 772.7,537.3 C776.2,536.9 778.5,536.7 782.0,537.3 C785.5,537.9 789.7,539.0 793.6,540.8 C797.5,542.5 802.5,545.8 805.2,547.8 C807.9,549.8 807.8,550.8 810.0,552.8 C812.2,554.8 815.5,557.1 818.3,559.5 C821.1,561.9 823.5,563.9 826.6,566.9 C829.7,569.9 833.3,573.7 837.0,577.5 C840.7,581.3 844.9,586.2 848.6,589.9 C852.3,593.6 856.2,596.6 859.4,599.9 C862.6,603.2 864.9,606.6 867.7,609.8 C870.5,613.0 873.2,615.7 876.0,618.9 C878.8,622.1 882.0,625.9 884.2,628.8 C886.4,631.7 886.7,633.7 889.2,636.3 C891.7,638.9 894.9,640.5 899.1,644.6 C903.3,648.7 908.1,655.3 914.3,660.8 C920.5,666.3 929.0,672.6 936.4,677.7 C943.8,682.8 951.4,687.6 958.5,691.3 C965.6,695.0 971.2,695.8 978.9,699.8 C986.5,703.8 995.9,711.1 1004.4,715.1 C1012.9,719.1 1020.8,721.8 1030.0,723.7 C1039.2,725.6 1049.9,725.0 1059.8,726.7 C1069.7,728.4 1079.6,731.6 1089.6,733.7 C1099.5,735.9 1109.5,737.0 1119.5,739.6 C1129.5,742.2 1140.9,746.6 1149.3,749.6 C1157.7,752.6 1163.0,753.9 1170.0,757.5 C1177.0,761.1 1183.3,766.9 1191.0,771.0 C1198.7,775.1 1206.2,777.2 1215.9,782.0 C1225.6,786.8 1239.0,793.8 1249.0,800.0 C1259.0,806.2 1267.5,812.5 1276.0,819.0 C1284.5,825.5 1292.7,833.3 1300.0,839.0 C1307.3,844.7 1313.3,847.8 1320.0,853.0 C1326.7,858.2 1333.3,864.8 1340.0,870.5 C1346.7,876.2 1353.3,881.6 1360.0,887.0 C1366.7,892.4 1373.3,897.5 1380.0,903.0 C1386.7,908.5 1393.3,914.2 1400.0,920.0 C1406.7,925.8 1413.3,931.8 1420.0,938.0 C1426.7,944.2 1433.3,950.5 1440.0,957.0 C1446.7,963.5 1456.7,973.7 1460.0,977.0"/>
<path stroke="#ff6b6b" d="M300.0,977.0 C341.3,977.0 504.7,977.2 548.0,977.0 C560.0,976.8 556.7,976.5 560.0,976.0 C563.3,975.5 565.5,974.9 568.0,974.0 C570.5,973.1 573.0,971.8 575.0,970.5 C577.0,969.2 578.2,968.1 580.0,966.5 C581.8,964.9 584.0,963.1 586.0,961.0 C588.0,958.9 589.8,956.5 592.0,954.0 C594.2,951.5 596.8,950.2 599.3,946.2 C601.8,942.2 604.3,935.2 606.8,929.7 C609.3,924.2 611.8,918.6 614.2,913.1 C616.6,907.6 618.9,902.1 621.2,896.6 C623.5,891.1 624.6,891.1 628.0,880.0 C631.4,868.9 637.2,846.7 641.6,830.0 C646.0,813.3 650.2,796.7 654.6,780.0 C659.0,763.3 663.9,746.7 668.3,730.0 C672.7,713.3 676.4,696.7 680.9,680.0 C685.4,663.3 691.4,642.5 695.0,630.0 C698.6,617.5 699.9,611.2 702.4,605.0 C704.9,598.8 707.2,597.2 710.0,593.0 C712.8,588.8 716.7,584.2 719.0,580.0 C721.3,575.8 722.2,571.5 724.0,567.5 C725.8,563.5 727.7,559.4 729.8,555.9 C731.9,552.4 734.3,548.1 736.8,546.6 C739.3,545.1 741.8,546.8 744.9,546.6 C748.0,546.4 751.6,545.9 755.3,545.5 C759.0,545.1 763.0,544.1 766.9,544.3 C770.8,544.5 775.6,545.0 778.5,546.6 C781.4,548.2 782.2,550.9 784.3,553.6 C786.4,556.3 788.6,559.8 791.3,562.8 C794.0,565.8 797.8,568.7 800.6,571.6 C803.4,574.5 806.0,577.2 808.1,580.0 C810.2,582.8 810.8,585.5 813.0,588.3 C815.2,591.1 818.5,594.4 821.3,596.6 C824.1,598.8 826.7,599.4 829.6,601.5 C832.5,603.6 836.5,606.2 838.7,609.0 C840.9,611.8 841.0,615.4 842.8,618.1 C844.6,620.9 846.9,623.3 849.5,625.5 C852.1,627.7 856.0,628.8 858.6,631.3 C861.2,633.8 863.4,637.5 865.2,640.4 C867.0,643.3 867.2,646.1 869.3,648.7 C871.4,651.3 874.6,653.2 877.6,656.2 C880.6,659.2 883.8,664.0 887.5,666.9 C891.2,669.8 896.8,670.5 900.0,673.7 C903.2,676.9 904.4,684.8 907.0,686.0 C909.6,687.2 912.1,680.1 915.5,681.0 C918.9,681.9 923.1,689.0 927.4,691.1 C931.7,693.2 936.8,692.1 941.1,693.8 C945.4,695.5 949.2,699.6 953.0,701.1 C956.8,702.6 960.6,702.4 964.0,703.0 C967.4,703.6 967.0,702.8 973.1,704.8 C979.2,706.8 991.4,713.0 1000.5,715.3 C1009.6,717.6 1021.4,717.8 1028.0,718.5 C1034.6,719.2 1036.3,719.4 1040.0,719.4 C1043.7,719.4 1043.3,717.8 1049.9,718.8 C1056.5,719.8 1069.8,723.9 1079.7,725.7 C1089.6,727.5 1101.2,728.4 1109.5,729.7 C1117.8,731.0 1122.8,731.4 1129.4,733.7 C1136.0,736.0 1142.5,740.6 1149.3,743.6 C1156.1,746.6 1161.5,746.7 1170.0,751.6 C1178.5,756.5 1190.0,766.3 1200.0,773.0 C1210.0,779.7 1220.0,785.8 1230.0,792.0 C1240.0,798.2 1251.7,804.5 1260.0,810.0 C1268.3,815.5 1273.3,819.7 1280.0,825.0 C1286.7,830.3 1293.3,836.7 1300.0,842.0 C1306.7,847.3 1313.3,851.8 1320.0,857.0 C1326.7,862.2 1333.3,867.5 1340.0,873.0 C1346.7,878.5 1353.3,884.5 1360.0,890.0 C1366.7,895.5 1373.3,900.5 1380.0,906.0 C1386.7,911.5 1393.3,917.2 1400.0,923.0 C1406.7,928.8 1413.3,935.0 1420.0,941.0 C1426.7,947.0 1433.3,953.0 1440.0,959.0 C1446.7,965.0 1456.7,974.0 1460.0,977.0"/>
<path stroke="#ff9999" d="M300.0,977.0 C340.0,977.0 498.3,977.1 540.0,977.0 C550.0,976.9 546.7,976.9 550.0,976.6 C553.3,976.3 557.0,975.9 560.0,975.2 C563.0,974.5 565.5,973.6 568.0,972.5 C570.5,971.4 572.7,970.1 575.0,968.5 C577.3,966.9 579.8,965.1 582.0,963.0 C584.2,960.9 586.2,958.5 588.0,956.0 C589.8,953.5 591.5,950.8 593.0,948.0 C594.5,945.2 595.8,942.0 597.0,939.0 C598.2,936.0 598.9,934.0 600.5,929.7 C602.1,925.4 604.6,918.6 606.8,913.1 C609.0,907.6 611.6,902.1 613.8,896.6 C616.0,891.1 616.8,891.1 620.0,880.0 C623.2,868.9 628.9,846.7 633.3,830.0 C637.7,813.3 642.3,796.7 646.4,780.0 C650.5,763.3 653.8,746.7 657.6,730.0 C661.5,713.3 665.1,696.7 669.5,680.0 C673.9,663.3 680.1,642.5 684.2,630.0 C688.3,617.5 691.1,613.3 694.1,605.0 C697.1,596.7 700.1,586.6 702.4,580.0 C704.7,573.4 705.7,569.4 707.8,565.2 C709.9,561.0 712.1,557.4 714.8,554.7 C717.5,552.0 721.3,551.4 724.0,548.9 C726.7,546.4 729.1,541.8 731.0,539.7 C732.9,537.6 733.3,536.2 735.6,536.2 C737.9,536.2 742.0,539.3 744.9,539.7 C747.8,540.1 750.3,537.7 753.0,538.5 C755.7,539.3 758.6,542.2 761.1,544.3 C763.6,546.4 766.2,548.8 768.1,551.3 C770.0,553.8 770.8,557.3 772.7,559.4 C774.6,561.5 777.5,561.1 779.7,564.0 C781.9,566.9 783.8,573.0 786.0,577.0 C788.2,581.0 790.6,584.8 793.2,588.3 C795.8,591.8 798.8,595.3 801.5,598.2 C804.2,601.1 807.2,602.9 809.7,605.7 C812.2,608.5 814.5,611.6 816.4,614.8 C818.3,618.0 819.4,621.5 821.3,624.7 C823.2,627.9 825.6,631.3 828.0,633.8 C830.4,636.3 833.3,637.5 835.4,639.6 C837.5,641.7 839.2,643.4 840.4,646.2 C841.6,649.0 841.4,653.9 842.8,656.2 C844.2,658.6 846.2,658.8 848.6,660.3 C851.0,661.8 854.1,663.4 856.9,665.3 C859.7,667.2 862.4,669.7 865.2,671.9 C868.0,674.1 869.8,676.1 873.5,678.5 C877.2,680.9 883.1,683.8 887.5,686.3 C891.9,688.8 896.4,692.2 900.0,693.8 C903.6,695.3 906.7,694.5 909.1,695.6 C911.5,696.7 912.5,699.7 914.6,700.2 C916.7,700.7 919.8,697.6 921.9,698.4 C924.0,699.2 924.5,703.9 927.4,705.2 C930.3,706.5 934.7,705.2 939.3,706.2 C943.9,707.2 951.3,711.3 954.8,711.2 C958.3,711.1 957.5,704.7 960.3,705.7 C963.0,706.7 967.2,717.0 971.3,717.1 C975.4,717.2 981.4,707.6 985.0,706.6 C988.6,705.6 990.6,710.8 993.2,711.2 C995.8,711.6 997.8,709.0 1000.5,708.9 C1003.2,708.8 1006.7,709.6 1009.7,710.7 C1012.8,711.8 1015.8,715.1 1018.8,715.3 C1021.8,715.5 1024.5,712.6 1028.0,712.1 C1031.5,711.6 1036.3,712.0 1040.0,712.1 C1043.7,712.2 1044.1,711.2 1049.9,712.8 C1055.7,714.4 1068.1,720.3 1074.7,721.8 C1081.3,723.3 1083.8,721.3 1089.6,721.8 C1095.4,722.3 1104.2,724.5 1109.5,724.8 C1114.8,725.1 1118.2,722.8 1121.5,723.8 C1124.8,724.8 1124.8,727.7 1129.4,730.7 C1134.0,733.7 1142.2,738.0 1149.3,741.7 C1156.4,745.4 1166.9,750.9 1172.0,753.0 C1177.1,755.1 1177.3,753.0 1180.0,754.5 C1182.7,756.0 1185.7,760.7 1188.0,762.0 C1190.3,763.3 1191.2,760.7 1194.0,762.5 C1196.8,764.3 1201.8,770.5 1205.0,773.0 C1208.2,775.5 1209.5,775.4 1213.0,777.7 C1216.5,780.0 1221.5,784.3 1226.0,787.0 C1230.5,789.7 1235.5,790.8 1240.0,794.0 C1244.5,797.2 1246.7,801.2 1252.7,806.4 C1258.7,811.5 1268.0,818.5 1275.9,824.9 C1283.8,831.3 1292.7,838.0 1300.0,844.6 C1307.3,851.2 1313.3,859.2 1320.0,864.7 C1326.7,870.2 1333.3,872.5 1340.0,877.6 C1346.7,882.7 1353.3,890.2 1360.0,895.5 C1366.7,900.8 1373.3,904.1 1380.0,909.4 C1386.7,914.7 1393.3,921.4 1400.0,927.2 C1406.7,933.0 1413.3,938.4 1420.0,944.0 C1426.7,949.6 1433.3,955.5 1440.0,961.0 C1446.7,966.5 1456.7,974.3 1460.0,977.0"/>
</g>
<g filter="url(#crisp)">
<text transform="translate(141.9,995.90) scale(1.014,1.055)" font-size="61">0.000</text>
<text transform="translate(141.9,840.57) scale(1.014,1.055)" font-size="61">0.005</text>
<text transform="translate(141.9,685.23) scale(1.014,1.055)" font-size="61">0.010</text>
<text transform="translate(141.9,529.90) scale(1.014,1.055)" font-size="61">0.015</text>
<text transform="translate(141.9,374.57) scale(1.014,1.055)" font-size="61">0.020</text>
<text transform="translate(141.9,219.23) scale(1.014,1.055)" font-size="61">0.025</text>
<text transform="translate(141.9,63.90) scale(1.014,1.055)" font-size="61">0.030</text>
<text transform="translate(300.30,1044.9) scale(1.045,1.0525)" font-size="61" text-anchor="middle">0</text>
<text transform="translate(429.19,1044.9) scale(1.045,1.0525)" font-size="61" text-anchor="middle">20</text>
<text transform="translate(558.08,1044.9) scale(1.045,1.0525)" font-size="61" text-anchor="middle">40</text>
<text transform="translate(686.97,1044.9) scale(1.045,1.0525)" font-size="61" text-anchor="middle">60</text>
<text transform="translate(815.86,1044.9) scale(1.045,1.0525)" font-size="61" text-anchor="middle">80</text>
<text transform="translate(944.74,1044.9) scale(1.045,1.0525)" font-size="61" text-anchor="middle">100</text>
<text transform="translate(1073.63,1044.9) scale(1.045,1.0525)" font-size="61" text-anchor="middle">120</text>
<text transform="translate(1202.52,1044.9) scale(1.045,1.0525)" font-size="61" text-anchor="middle">140</text>
<text transform="translate(1331.41,1044.9) scale(1.045,1.0525)" font-size="61" text-anchor="middle">160</text>
<text transform="translate(1460.30,1044.9) scale(1.045,1.0525)" font-size="61" text-anchor="middle">180</text>
<text transform="translate(345.44,128.9) scale(1.0517,1.0525)" font-size="61">1100 K</text>
<text transform="translate(735.3,1159) scale(0.987,1.0)" font-size="80">Angle</text>
<text transform="translate(952.85,1159.5) scale(1.05,0.956)" font-size="80">(</text>
<text x="980.2" y="1149.3" font-size="56" style="font-weight:normal">&#9702;</text>
<text transform="translate(997.9,1159.5) scale(1.05,0.956)" font-size="80">)</text>
<text transform="translate(77.3,492.4) rotate(-90) scale(0.995,1.02)" font-size="80" text-anchor="middle">Frequency</text>
</g>
<rect x="1203" y="50" width="255" height="667" fill="none" stroke="#000" stroke-width="2"/>
<line x1="1210" y1="81.0" x2="1308" y2="81.0" stroke="#000000" stroke-width="8" stroke-linecap="round" shape-rendering="crispEdges"/>
<line x1="1210" y1="136.1" x2="1308" y2="136.1" stroke="#646464" stroke-width="8" stroke-linecap="round" shape-rendering="crispEdges"/>
<line x1="1210" y1="191.2" x2="1308" y2="191.2" stroke="#a0a0a0" stroke-width="8" stroke-linecap="round" shape-rendering="crispEdges"/>
<line x1="1210" y1="246.3" x2="1308" y2="246.3" stroke="#d3d3d3" stroke-width="8" stroke-linecap="round" shape-rendering="crispEdges"/>
<line x1="1210" y1="301.4" x2="1308" y2="301.4" stroke="#000088" stroke-width="8" stroke-linecap="round" shape-rendering="crispEdges"/>
<line x1="1210" y1="356.5" x2="1308" y2="356.5" stroke="#0010c8" stroke-width="8" stroke-linecap="round" shape-rendering="crispEdges"/>
<line x1="1210" y1="411.6" x2="1308" y2="411.6" stroke="#5a78ff" stroke-width="8" stroke-linecap="round" shape-rendering="crispEdges"/>
<line x1="1210" y1="466.7" x2="1308" y2="466.7" stroke="#8ca0ff" stroke-width="8" stroke-linecap="round" shape-rendering="crispEdges"/>
<line x1="1210" y1="521.8" x2="1308" y2="521.8" stroke="#ff0000" stroke-width="8" stroke-linecap="round" shape-rendering="crispEdges"/>
<line x1="1210" y1="576.9" x2="1308" y2="576.9" stroke="#e60000" stroke-width="8" stroke-linecap="round" shape-rendering="crispEdges"/>
<line x1="1210" y1="632.0" x2="1308" y2="632.0" stroke="#ff6b6b" stroke-width="8" stroke-linecap="round" shape-rendering="crispEdges"/>
<line x1="1210" y1="687.1" x2="1308" y2="687.1" stroke="#ff9999" stroke-width="8" stroke-linecap="round" shape-rendering="crispEdges"/>
<g filter="url(#crisp)">
<text transform="translate(1320,95.60) scale(1.005,1.055)" font-size="44">A-2 Li</text>
<text transform="translate(1320,150.70) scale(1.005,1.055)" font-size="44">A-4 Li</text>
<text transform="translate(1320,205.80) scale(1.005,1.055)" font-size="44">A-6 Li</text>
<text transform="translate(1320,260.90) scale(1.005,1.055)" font-size="44">A-8 Li</text>
<text transform="translate(1320,316.00) scale(1.005,1.055)" font-size="44">A-2 Na</text>
<text transform="translate(1320,371.10) scale(1.005,1.055)" font-size="44">A-4 Na</text>
<text transform="translate(1320,426.20) scale(1.005,1.055)" font-size="44">A-6 Na</text>
<text transform="translate(1320,481.30) scale(1.005,1.055)" font-size="44">A-8 Na</text>
<text transform="translate(1320,536.40) scale(1.005,1.055)" font-size="44">A-2 K</text>
<text transform="translate(1320,591.50) scale(1.005,1.055)" font-size="44">A-4 K</text>
<text transform="translate(1320,646.60) scale(1.005,1.055)" font-size="44">A-6 K</text>
<text transform="translate(1320,701.70) scale(1.005,1.055)" font-size="44">A-8 K</text>
</g>
</svg></body></html>
